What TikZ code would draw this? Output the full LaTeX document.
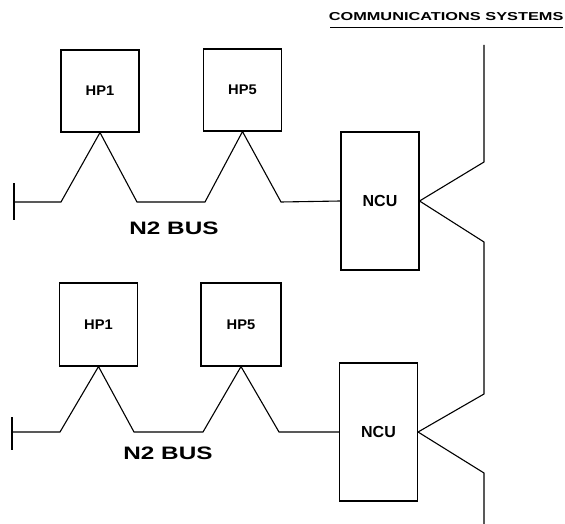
\documentclass[tikz,border=0pt]{standalone}
\usepackage{fontspec}
\setmainfont{Liberation Sans}
\begin{document}
\begin{tikzpicture}[x=1pt,y=-1pt,line width=1.1pt,line join=miter,
  unitbox/.style={draw,minimum width=78pt,minimum height=82pt,inner sep=0pt,
    font=\fontsize{14}{14}\selectfont\bfseries},
  ncubox/.style={draw,minimum width=78pt,minimum height=138pt,inner sep=0pt,
    font=\fontsize{16}{16}\selectfont\bfseries},
  buslabel/.style={inner sep=0pt,font=\fontsize{18}{18}\selectfont\bfseries},
  headlabel/.style={inner sep=0pt,font=\fontsize{11.5}{11.5}\selectfont\bfseries}]
\useasboundingbox (0,0) rectangle (565,524);

% heading with its rule
\node[headlabel,anchor=base east] (head) at (564,21) {\scalebox{1.42}[1]{COMMUNICATIONS SYSTEMS}};
\coordinate (ruleL) at (330,28);
\coordinate (ruleR) at (563,28);
\draw[line width=1pt] (ruleL) -- (ruleR);

% upper network
\node[unitbox] (hpa1) at (100,91) {\scalebox{1.05}[1]{HP1}};
\node[unitbox] (hpa5) at (242.5,90) {\scalebox{1.05}[1]{HP5}};
\node[ncubox] (ncua) at (380,201) {NCU};
\coordinate (enda) at (14,202);
\draw (14,183) -- (14,220);
\draw (enda) -- (61,202) -- (hpa1.south) -- (137,202) -- (205,202)
  -- (hpa5.south) -- (281,202) -- (ncua.west);
\node[buslabel] (busa) at (174,228) {\scalebox{1.35}[1]{N2 BUS}};

% lower network
\node[unitbox,minimum height=83pt] (hpb1) at (98.5,324.5) {\scalebox{1.05}[1]{HP1}};
\node[unitbox,minimum height=83pt,minimum width=80pt] (hpb5) at (241,324.5) {\scalebox{1.05}[1]{HP5}};
\node[ncubox] (ncub) at (378.5,432) {NCU};
\coordinate (endb) at (12,432);
\draw (12,417) -- (12,450);
\draw (endb) -- (60,432) -- (hpb1.south) -- (134,432) -- (203,432)
  -- (hpb5.south) -- (279,432) -- (ncub.west);
\node[buslabel] (busb) at (168,453) {\scalebox{1.35}[1]{N2 BUS}};

% links to the communications systems
\coordinate (commtop) at (484,45);
\coordinate (commbot) at (484,524);
\draw (commtop) -- (484,162) -- (ncua.east);
\draw (ncua.east) -- (484,242) -- (484,394) -- (ncub.east);
\draw (ncub.east) -- (484,473) -- (commbot);
\end{tikzpicture}
\end{document}
